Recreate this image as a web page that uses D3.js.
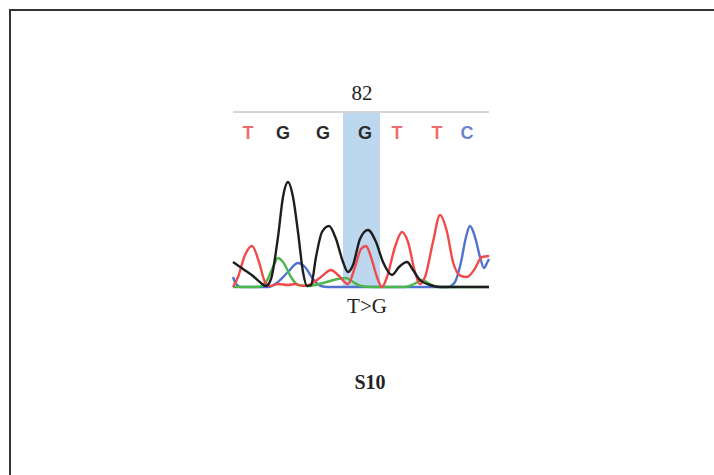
<!DOCTYPE html>
<html>
<head>
<meta charset="utf-8">
<script src="https://cdn.jsdelivr.net/npm/d3@7"></script>
<style>
  body { margin: 0; background: #fff; }
</style>
</head>
<body>
<div id="wrapper"></div>
<script>
// chromatogram traces, [scan position, signal]
const blackTrace = [[0,25],[10,18],[20,11],[28,4],[33,1],[38,8],[45,50],[50,90],[55,105],[60,90],[65,55],[70,15],[74,1],[78,2],[83,30],[89,55],[96,61],[103,48],[110,25],[115,15],[120,22],[127,48],[135,57],[143,45],[150,25],[159,12],[166,20],[174,25],[180,17],[187,7],[197,2],[207,0],[256,0]]
const redTrace = [[0,0],[5,10],[12,32],[19,41],[26,25],[32,5],[37,1],[45,3],[55,2],[62,3],[70,1],[78,3],[88,10],[98,17],[105,12],[115,3],[122,20],[128,38],[133,41],[138,30],[144,10],[149,0],[154,10],[162,40],[169,55],[175,45],[182,15],[187,3],[192,10],[200,45],[207,72],[214,55],[220,25],[228,11],[234,10],[241,17],[249,30],[256,31]]
const greenTrace = [[0,0],[25,0],[33,5],[40,20],[45,29],[50,25],[58,10],[65,2],[75,1],[90,4],[105,8],[113,9],[120,5],[128,1],[140,0],[172,0],[181,3],[189,7],[197,3],[205,0],[256,0]]
const blueTrace = [[0,10],[3,3],[8,0],[35,0],[45,5],[55,15],[65,24],[72,20],[80,8],[88,1],[95,0],[215,0],[222,5],[228,25],[233,50],[237,61],[242,50],[247,30],[251,19],[254,24],[256,28]]

const bases = ['T','G','G','G','T','T','C']
const basePos = [15, 50, 90, 132, 164, 204, 234]
const highlight = [110, 147]
const positionLabel = '82'
const mutationLabel = 'T>G'
const sampleLabel = 'S10'

function draw() {
    const parent = d3.select('#wrapper')
    parent.selectAll('*').remove()

    const width = 714, height = 475
    const svg = parent.append('svg')
        .attr('width', width)
        .attr('height', height)

    // frame (runs off the right and bottom)
    svg.append('rect')
        .attr('x', 10).attr('y', 10)
        .attr('width', 760).attr('height', 520)
        .attr('fill', 'none')
        .attr('stroke', '#333')
        .attr('stroke-width', 2)

    const x = d3.scaleLinear().domain([0, 256]).range([233, 489])
    const y = d3.scaleLinear().domain([0, 105]).range([287, 182])

    const baseColor = { T: '#f26b6b', G: '#2b2b2b', C: '#6b84d2', A: '#4cb84c' }

    // highlighted base
    svg.append('rect')
        .attr('x', x(highlight[0]))
        .attr('y', 113)
        .attr('width', x(highlight[1]) - x(highlight[0]))
        .attr('height', y(0) + 1 - 113)
        .attr('fill', '#bdd7ee')

    svg.append('line')
        .attr('x1', x(0)).attr('x2', x(256))
        .attr('y1', 112).attr('y2', 112)
        .attr('stroke', '#aaa')
        .attr('stroke-width', 1)

    svg.append('text')
        .attr('x', 362).attr('y', 100)
        .attr('text-anchor', 'middle')
        .style('font-family', 'Liberation Serif, serif')
        .style('font-size', '21px')
        .attr('fill', '#222')
        .text(positionLabel)

    svg.append('g').selectAll('text')
        .data(bases)
        .enter().append('text')
        .attr('x', (d, i) => x(basePos[i]))
        .attr('y', 139)
        .attr('text-anchor', 'middle')
        .style('font-family', 'Liberation Sans, Arial, sans-serif')
        .style('font-size', '18px')
        .style('font-weight', 'bold')
        .attr('fill', d => baseColor[d])
        .text(d => d)

    const line = d3.line()
        .x(d => x(d[0]))
        .y(d => y(d[1]))
        .curve(d3.curveMonotoneX)

    const traces = [
        { data: blueTrace, color: '#4f72cf' },
        { data: greenTrace, color: '#4cb84c' },
        { data: redTrace, color: '#f04a4a' },
        { data: blackTrace, color: '#1e1e1e' }
    ]
    svg.append('g').selectAll('path')
        .data(traces)
        .enter().append('path')
        .attr('d', d => line(d.data))
        .attr('fill', 'none')
        .attr('stroke', d => d.color)
        .attr('stroke-width', 2.4)
        .attr('stroke-linejoin', 'round')

    svg.append('text')
        .attr('x', 367).attr('y', 313)
        .attr('text-anchor', 'middle')
        .style('font-family', 'Liberation Serif, serif')
        .style('font-size', '21px')
        .attr('fill', '#222')
        .text(mutationLabel)

    svg.append('text')
        .attr('x', 370).attr('y', 389)
        .attr('text-anchor', 'middle')
        .style('font-family', 'Liberation Serif, serif')
        .style('font-size', '20px')
        .style('font-weight', 'bold')
        .attr('fill', '#222')
        .text(sampleLabel)
}
draw()
</script>
</body>
</html>
